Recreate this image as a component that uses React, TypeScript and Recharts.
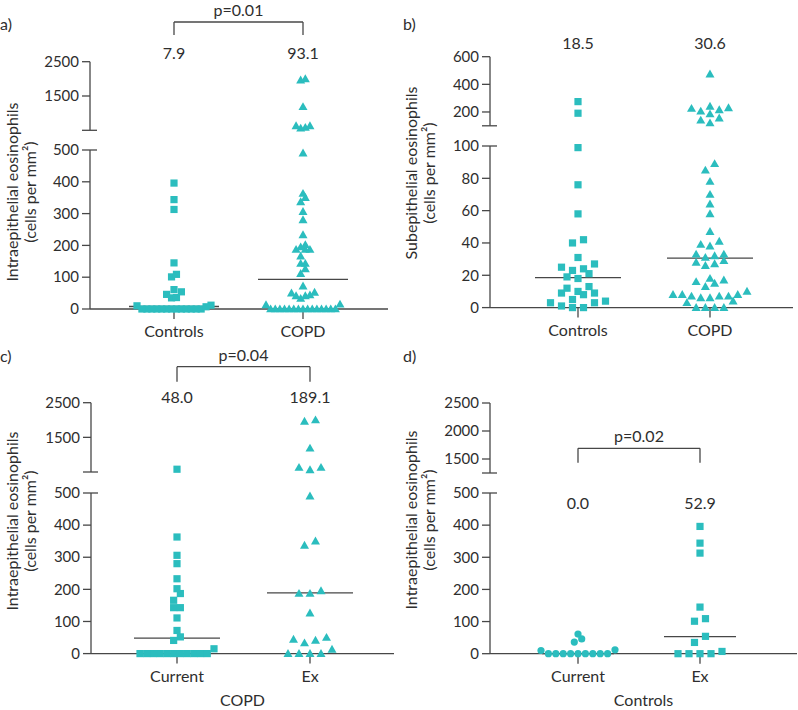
import React from 'react';
import { ScatterChart, Scatter, XAxis, YAxis, ReferenceLine, ReferenceDot } from 'recharts';

const TEAL = '#2bbdbe';
const INK = '#2e2e2e';
const LINE = '#474747';
const FONT = 'Lato, "Noto Sans", sans-serif';

// intraepithelial eosinophils (cells per mm2), COPD patients
const copdCurrent = [580, 363, 306, 280, 233, 202, 187, 166, 143, 143, 111, 72, 52, 41, 15, 0, 0, 0, 0, 0, 0, 0, 0, 0, 0, 0];
const copdEx = [2000, 1960, 1185, 630, 630, 560, 490, 350, 337, 195, 187, 187, 126, 50, 44, 41, 33, 13, 0, 0, 0, 0];
// intraepithelial eosinophils (cells per mm2), controls
const controlCurrent = [61, 46, 36, 12, 10, 0, 0, 0, 0, 0, 0, 0, 0, 0];
const controlEx = [396, 344, 313, 145, 109, 101, 54, 35, 7, 0, 0, 0, 0];
// subepithelial eosinophils (cells per mm2)
const subControls = [275, 191, 99, 76, 58, 42, 40, 31, 27, 25, 24, 23, 21, 19, 18, 13, 12, 10, 9, 9, 8, 5, 4, 3, 3, 1, 0, 0];
const subCopd = [474, 240, 230, 225, 215, 205, 185, 155, 140, 120, 89, 85, 78, 70, 64, 58, 47, 41, 39, 38, 33, 33, 32, 31,
  29, 28, 27, 26, 18, 17, 16, 15, 13, 10, 8, 8, 8, 7, 7, 7, 6, 6, 4, 3, 0, 0, 0, 0];

const mediansA = [7.9, 93.1];
const mediansB = [18.5, 30.6];
const mediansC = [48.0, 189.1];
const mediansD = [0.0, 52.9];

const groupsAB = ['Controls', 'COPD'];
const groupsCD = ['Current', 'Ex'];

const ticksLowIntra = [0, 100, 200, 300, 400, 500];
const ticksUpIntra = [500, 1500, 2500];
const ticksUpIntraD = [1250, 1500, 2000, 2500];
const ticksLowSub = [0, 20, 40, 60, 80, 100];
const ticksUpSub = [100, 200, 400, 600];

const intraTitle = ['Intraepithelial eosinophils', '(cells per mm\u00b2)'];
const subTitle = ['Subepithelial eosinophils', '(cells per mm\u00b2)'];

type Seg = { lo: number; hi: number; ticks: number[]; yBottom: number; yTop: number };
type Group = { values: number[]; shape: 'square' | 'triangle' | 'circle'; median: number };
type Cfg = {
  letter: string; letterX: number; letterY: number;
  title: string[]; titleX: number[]; titleY: number;
  top: number; axisX: number; axisEnd: number; cats: number[]; names: string[]; xTitle?: string;
  low: Seg; up: Seg; groups: Group[]; medHalf: number;
  medLabel: { chart: 'up' | 'low'; y: number };
  bracket?: { chart: 'up' | 'low'; top: number; bottom: number; text: string };
};

const YW = 60;

const segPx = (s: Seg, v: number) => s.yBottom - ((v - s.lo) / (s.hi - s.lo)) * (s.yBottom - s.yTop);

// prism-like column scatter: rows of points with close values are spread around the centre
function swarm(values: number[], pxOf: (v: number) => number, rowH = 7, maxSp = 11, maxW = 74) {
  const sorted = [...values].sort((a, b) => a - b);
  const rows: number[][] = [];
  let cur: number[] = [];
  let start = 0;
  for (const v of sorted) {
    const py = pxOf(v);
    if (cur.length && start - py > rowH) {
      rows.push(cur);
      cur = [];
    }
    if (!cur.length) start = py;
    cur.push(v);
  }
  if (cur.length) rows.push(cur);
  const maxN = Math.max(...rows.map((r) => r.length));
  const sp = maxN > 1 ? Math.min(maxSp, maxW / (maxN - 1)) : maxSp;
  const out: { off: number; v: number }[] = [];
  rows.forEach((r) => {
    const n = r.length;
    const slots = Array.from({ length: n }, (_, i) => (i - (n - 1) / 2) * sp).sort(
      (a, b) => Math.abs(a) - Math.abs(b) || a - b
    );
    r.forEach((v, i) => out.push({ off: slots[i], v }));
  });
  return out;
}

const shapeFor = (kind: string) => (p: any) => {
  const { cx, cy } = p;
  if (kind === 'square') return <rect x={cx - 3.6} y={cy - 3.6} width={7.2} height={7.2} fill={TEAL} />;
  if (kind === 'circle') return <circle cx={cx} cy={cy} r={3.6} fill={TEAL} />;
  return <polygon points={`${cx},${cy - 4.6} ${cx - 4.5},${cy + 3.3} ${cx + 4.5},${cy + 3.3}`} fill={TEAL} />;
};

const yTick = (wide: number[], hidden: number[]) => (p: any) => {
  const v = p.payload.value;
  return (
    <g>
      <line x1={YW - 8} x2={wide.includes(v) ? YW + 7 : YW} y1={p.y} y2={p.y} stroke={LINE} strokeWidth={1.3} />
      {!hidden.includes(v) && (
        <text x={YW - 11} y={p.y} dy="0.35em" textAnchor="end" fill={INK} fontSize={15} fontFamily={FONT}>
          {v}
        </text>
      )}
    </g>
  );
};

const lineStyle = { stroke: LINE, strokeWidth: 1.3 };

function Panel({ cfg }: { cfg: Cfg }) {
  const span = cfg.cats[1] - cfg.cats[0];
  const xDomain = [1 - (cfg.cats[0] - cfg.axisX) / span, 2 + (cfg.axisEnd - cfg.cats[1]) / span];
  const pxOf = (v: number) => (v > cfg.low.hi ? segPx(cfg.up, v) : segPx(cfg.low, v));
  const series = cfg.groups.map((g, gi) =>
    swarm(g.values, pxOf).map((p) => ({ x: gi + 1 + p.off / span, y: p.v }))
  );
  const upperSeries = series.map((s) => s.filter((p) => p.y > cfg.low.hi));
  const lowerSeries = series.map((s) => s.filter((p) => p.y <= cfg.low.hi));
  // an upper segment without any point still needs its fixed domain
  const upEmpty = upperSeries.every((s) => s.length === 0);
  const half = cfg.medHalf / span;
  const left = cfg.axisX - YW;
  const width = cfg.axisEnd - left + 6;
  const xAxisH = cfg.xTitle ? 56 : 36;
  const lowTop = cfg.low.yTop - 12;
  const lowH = cfg.low.yBottom - lowTop + xAxisH;
  const upH = cfg.up.yBottom - cfg.top + 6;

  const annotations = (chart: 'up' | 'low') => {
    const els: React.ReactNode[] = [];
    if (cfg.medLabel.chart === chart) {
      cfg.groups.forEach((g, gi) =>
        els.push(
          <ReferenceDot
            key={`ml${gi}`}
            x={gi + 1}
            y={cfg.medLabel.y}
            r={0}
            fill="none"
            stroke="none"
            ifOverflow="visible"
            label={{ value: g.median.toFixed(1), position: 'center', fill: INK, fontSize: 16, fontFamily: FONT }}
          />
        )
      );
    }
    const b = cfg.bracket;
    if (b && b.chart === chart) {
      els.push(
        <ReferenceLine
          key="bt"
          segment={[{ x: 1, y: b.top }, { x: 2, y: b.top }]}
          {...lineStyle}
          ifOverflow="visible"
          label={{ value: b.text, position: 'top', offset: 6, fill: INK, fontSize: 16, fontFamily: FONT }}
        />,
        <ReferenceLine key="bl" segment={[{ x: 1, y: b.top }, { x: 1, y: b.bottom }]} {...lineStyle} ifOverflow="visible" />,
        <ReferenceLine key="br" segment={[{ x: 2, y: b.top }, { x: 2, y: b.bottom }]} {...lineStyle} ifOverflow="visible" />
      );
    }
    return els;
  };

  return (
    <>
      <div style={{ position: 'absolute', left, top: cfg.top, width, height: upH }}>
        <ScatterChart width={width} height={upH} margin={{ top: cfg.up.yTop - cfg.top, right: 6, bottom: 6, left: 0 }}>
          <XAxis type="number" dataKey="x" domain={xDomain} allowDataOverflow={upEmpty} hide />
          <YAxis
            type="number"
            dataKey="y"
            domain={[cfg.up.lo, cfg.up.hi]}
            allowDataOverflow={upEmpty}
            ticks={cfg.up.ticks}
            interval={0}
            width={YW}
            axisLine={lineStyle}
            tickLine={false}
            tick={yTick([cfg.up.lo], [cfg.up.lo])}
          />
          {upperSeries.map((s, gi) => (
            <Scatter key={gi} data={s} shape={shapeFor(cfg.groups[gi].shape)} isAnimationActive={false} />
          ))}
          {annotations('up')}
        </ScatterChart>
      </div>
      <div style={{ position: 'absolute', left, top: lowTop, width, height: lowH }}>
        <ScatterChart width={width} height={lowH} margin={{ top: 12, right: 6, bottom: 0, left: 0 }}>
          <XAxis
            type="number"
            dataKey="x"
            domain={xDomain}
            ticks={[1, 2]}
            interval={0}
            tickFormatter={(v: number) => cfg.names[Math.round(v) - 1]}
            height={xAxisH}
            tickSize={10}
            tickMargin={7}
            axisLine={lineStyle}
            tickLine={lineStyle}
            tick={{ fill: INK, fontSize: 16, fontFamily: FONT }}
            label={
              cfg.xTitle
                ? { value: cfg.xTitle, position: 'insideBottom', offset: 4, fill: INK, fontSize: 16, fontFamily: FONT }
                : undefined
            }
          />
          <YAxis
            type="number"
            dataKey="y"
            domain={[cfg.low.lo, cfg.low.hi]}
            ticks={cfg.low.ticks}
            interval={0}
            width={YW}
            axisLine={lineStyle}
            tickLine={false}
            tick={yTick([cfg.low.hi], [])}
          />
          {lowerSeries.map((s, gi) => (
            <Scatter key={gi} data={s} shape={shapeFor(cfg.groups[gi].shape)} isAnimationActive={false} />
          ))}
          {cfg.groups.map((g, gi) => (
            <ReferenceLine
              key={`md${gi}`}
              segment={[{ x: gi + 1 - half, y: g.median }, { x: gi + 1 + half, y: g.median }]}
              {...lineStyle}
              ifOverflow="visible"
            />
          ))}
          {annotations('low')}
        </ScatterChart>
      </div>
    </>
  );
}

const panels: Cfg[] = [
  {
    letter: 'a)', letterX: 0, letterY: 23,
    title: intraTitle, titleX: [11, 29], titleY: 192,
    top: 0, axisX: 90, axisEnd: 388, cats: [174, 303], names: groupsAB,
    low: { lo: 0, hi: 500, ticks: ticksLowIntra, yBottom: 309, yTop: 150 },
    up: { lo: 500, hi: 2500, ticks: ticksUpIntra, yBottom: 130.3, yTop: 61.7 },
    groups: [
      { values: [...controlCurrent, ...controlEx], shape: 'square', median: mediansA[0] },
      { values: [...copdCurrent, ...copdEx], shape: 'triangle', median: mediansA[1] },
    ],
    medHalf: 45,
    medLabel: { chart: 'up', y: 2754 },
    bracket: { chart: 'up', top: 3657, bottom: 3278, text: 'p=0.01' },
  },
  {
    letter: 'b)', letterX: 403, letterY: 23,
    title: subTitle, titleX: [410, 428], titleY: 173,
    top: 0, axisX: 490, axisEnd: 793, cats: [578, 710], names: groupsAB,
    low: { lo: 0, hi: 100, ticks: ticksLowSub, yBottom: 307.3, yTop: 145.7 },
    up: { lo: 100, hi: 600, ticks: ticksUpSub, yBottom: 125.8, yTop: 56.7 },
    groups: [
      { values: subControls, shape: 'square', median: mediansB[0] },
      { values: subCopd, shape: 'triangle', median: mediansB[1] },
    ],
    medHalf: 43,
    medLabel: { chart: 'up', y: 699 },
  },
  {
    letter: 'c)', letterX: 0, letterY: 355,
    title: intraTitle, titleX: [11, 29], titleY: 521,
    top: 340, axisX: 91, axisEnd: 394, cats: [177, 310], names: groupsCD, xTitle: 'COPD',
    low: { lo: 0, hi: 500, ticks: ticksLowIntra, yBottom: 653.3, yTop: 492.7 },
    up: { lo: 500, hi: 2500, ticks: ticksUpIntra, yBottom: 472, yTop: 402.7 },
    groups: [
      { values: copdCurrent, shape: 'square', median: mediansC[0] },
      { values: copdEx, shape: 'triangle', median: mediansC[1] },
    ],
    medHalf: 43,
    medLabel: { chart: 'up', y: 2645 },
    bracket: { chart: 'up', top: 3540, bottom: 3107, text: 'p=0.04' },
  },
  {
    letter: 'd)', letterX: 403, letterY: 355,
    title: intraTitle, titleX: [410, 428], titleY: 520,
    top: 340, axisX: 490, axisEnd: 797, cats: [578, 700], names: groupsCD, xTitle: 'Controls',
    low: { lo: 0, hi: 500, ticks: ticksLowIntra, yBottom: 654, yTop: 493.3 },
    up: { lo: 1250, hi: 2500, ticks: ticksUpIntraD, yBottom: 473, yTop: 403 },
    groups: [
      { values: controlCurrent, shape: 'circle', median: mediansD[0] },
      { values: controlEx, shape: 'square', median: mediansD[1] },
    ],
    medHalf: 36,
    medLabel: { chart: 'low', y: 467 },
    bracket: { chart: 'up', top: 1691, bottom: 1434, text: 'p=0.02' },
  },
];

export default function App() {
  return (
    <div style={{ position: 'absolute', left: 0, top: 0, width: 798, height: 710, background: '#fff', fontFamily: FONT }}>
      {panels.map((p) => (
        <Panel key={p.letter} cfg={p} />
      ))}
      <svg width={798} height={710} style={{ position: 'absolute', left: 0, top: 0, pointerEvents: 'none' }}>
        {panels.map((p) => (
          <g key={p.letter} fill={INK} fontFamily={FONT} fontSize={16}>
            <text x={p.letterX} y={p.letterY} dominantBaseline="central">
              {p.letter}
            </text>
            {p.title.map((t, i) => (
              <text
                key={i}
                transform={`translate(${p.titleX[i]},${p.titleY}) rotate(-90)`}
                textAnchor="middle"
                dominantBaseline="central"
              >
                {t}
              </text>
            ))}
          </g>
        ))}
      </svg>
    </div>
  );
}
